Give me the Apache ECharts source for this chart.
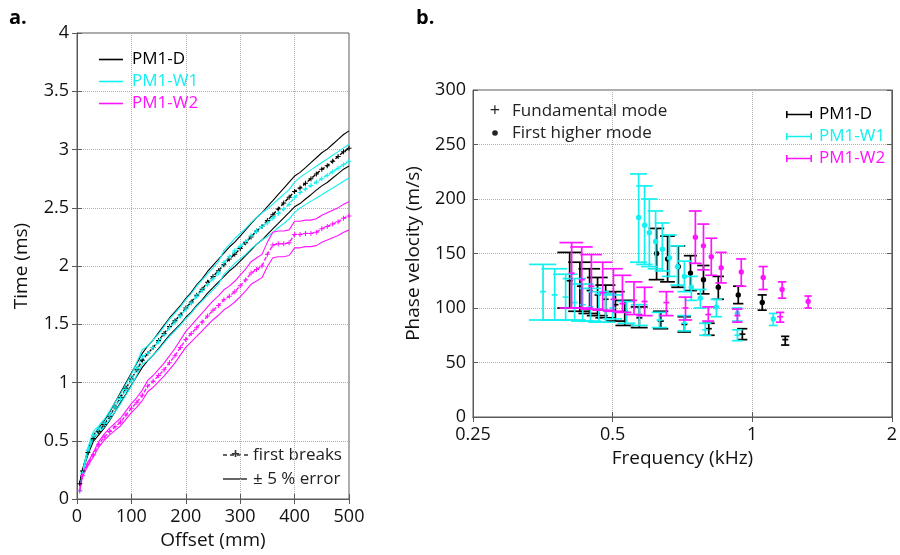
<!DOCTYPE html>
<html>
<head>
<meta charset="utf-8">
<script src="https://cdn.jsdelivr.net/npm/echarts@6/dist/echarts.min.js"></script>
<style>
  html, body { margin: 0; padding: 0; background: #fff; }
  #chart { width: 900px; height: 555px; }
</style>
</head>
<body>
<div id="chart"></div>
<script>
// ---- panel a: first-break picks (offset in mm, time in ms) ----
const offsetMm = [5, 10, 20, 30, 40, 50, 60, 70, 80, 90, 100, 110, 120, 130, 140, 150, 160, 170, 180, 190,
  200, 210, 220, 230, 240, 250, 260, 270, 280, 290, 300, 310, 320, 330, 340, 350, 360, 370, 380, 390,
  400, 410, 420, 430, 440, 450, 460, 470, 480, 490, 500];
const breaksD = [0.13, 0.24, 0.40, 0.52, 0.58, 0.64, 0.71, 0.79, 0.87, 0.95, 1.03, 1.11, 1.19, 1.25, 1.30, 1.36, 1.42, 1.48, 1.53, 1.58,
  1.64, 1.69, 1.75, 1.80, 1.86, 1.91, 1.96, 2.01, 2.06, 2.10, 2.15, 2.20, 2.25, 2.30, 2.34, 2.39, 2.44, 2.49, 2.54, 2.59,
  2.64, 2.67, 2.71, 2.75, 2.79, 2.83, 2.86, 2.90, 2.94, 2.98, 3.01];
const breaksW1 = [0.07, 0.22, 0.42, 0.55, 0.60, 0.65, 0.72, 0.79, 0.86, 0.94, 1.02, 1.12, 1.22, 1.25, 1.30, 1.35, 1.41, 1.47, 1.52, 1.57,
  1.63, 1.68, 1.74, 1.79, 1.84, 1.89, 1.94, 2.03, 2.08, 2.13, 2.17, 2.21, 2.26, 2.30, 2.34, 2.37, 2.41, 2.45, 2.49, 2.53,
  2.59, 2.63, 2.66, 2.69, 2.72, 2.75, 2.78, 2.81, 2.84, 2.87, 2.90];
const breaksW2 = [0.07, 0.20, 0.30, 0.38, 0.47, 0.53, 0.58, 0.62, 0.66, 0.72, 0.78, 0.83, 0.89, 0.97, 1.01, 1.06, 1.11, 1.17, 1.23, 1.30,
  1.37, 1.42, 1.47, 1.52, 1.57, 1.62, 1.66, 1.71, 1.74, 1.78, 1.83, 1.88, 1.94, 1.97, 2.00, 2.10, 2.18, 2.19, 2.19, 2.20,
  2.27, 2.27, 2.28, 2.28, 2.29, 2.32, 2.34, 2.36, 2.38, 2.41, 2.43];
const errorFrac = 0.05; // the "± 5 % error" envelope

// ---- panel b: dispersion picks [freq kHz, velocity m/s, low, high] ----
const dFund = [[0.404, 125, 100, 151], [0.425, 120, 97, 142], [0.446, 116, 95, 136], [0.464, 112, 93, 128],
  [0.483, 108, 91, 121], [0.507, 103, 88, 115], [0.531, 97, 84, 107], [0.571, 91, 82, 101], [0.635, 88, 81, 97],
  [0.714, 85, 78, 92], [0.806, 81, 75, 86], [0.952, 76, 71, 81], [1.178, 71, 66, 74]];
const dHigher = [[0.622, 150, 126, 173], [0.657, 145, 124, 166], [0.693, 138, 119, 157], [0.736, 132, 116, 148],
  [0.785, 126, 113, 139], [0.845, 119, 108, 129], [0.933, 112, 104, 120], [1.051, 105, 98, 112]];
const w1Fund = [[0.354, 115, 89, 140], [0.375, 112, 89, 136], [0.396, 110, 89, 131], [0.414, 105, 89, 127],
  [0.431, 103, 88, 122], [0.448, 101, 88, 118], [0.467, 99, 87, 115], [0.483, 97, 87, 113], [0.500, 100, 90, 112],
  [0.536, 96, 86, 106], [0.571, 94, 84, 103], [0.631, 89, 82, 96], [0.714, 86, 79, 93], [0.792, 80, 75, 86],
  [0.929, 75, 70, 80]];
const w1Higher = [[0.569, 183, 142, 223], [0.586, 176, 140, 212], [0.600, 169, 138, 200], [0.619, 161, 136, 189],
  [0.640, 154, 134, 178], [0.663, 146, 129, 167], [0.690, 138, 121, 157], [0.714, 129, 115, 143],
  [0.739, 119, 107, 129], [0.773, 109, 100, 117], [0.837, 101, 92, 108], [0.929, 95, 88, 100], [1.110, 90, 84, 95]];
const w2Fund = [[0.408, 132, 100, 160], [0.429, 126, 100, 156], [0.450, 120, 99, 149], [0.476, 114, 98, 142],
  [0.502, 108, 97, 136], [0.525, 104, 96, 130], [0.556, 107, 94, 124], [0.586, 106, 93, 119], [0.653, 105, 93, 115],
  [0.718, 100, 89, 110], [0.804, 94, 88, 101], [0.929, 93, 87, 99], [1.149, 92, 87, 96]];
const w2Higher = [[0.754, 165, 141, 189], [0.785, 157, 135, 177], [0.816, 147, 130, 164], [0.857, 137, 123, 151],
  [0.947, 133, 120, 145], [1.056, 128, 117, 138], [1.160, 117, 109, 124], [1.320, 106, 100, 111]];
const capHalfKHz = 0.024; // errorbar cap half width, in kHz

const BLACK = '#000000';
const CYAN = '#14f0f0';
const MAGENTA = '#ff14ff';
const FONT = '"Open Sans"';

const chart = echarts.init(document.getElementById('chart'));

const plusSymbol = 'path://M-1,-0.2H1V0.2H-1Z M-0.2,-1H0.2V1H-0.2Z';

function zipXY(ys) {
  return offsetMm.map((x, i) => [x, ys[i]]);
}

function breakSeries(name, color, ys) {
  const up = ys.map(t => +(t * (1 + errorFrac)).toFixed(3));
  const lo = ys.map(t => +(t * (1 - errorFrac)).toFixed(3));
  return [
    {
      name: name, type: 'line', xAxisIndex: 0, yAxisIndex: 0,
      data: zipXY(ys), symbol: plusSymbol, symbolSize: 5, showSymbol: true,
      itemStyle: { color: color }, lineStyle: { color: color, width: 1.4, type: [4, 2] },
      animation: false, silent: true
    },
    {
      name: name + ' +5%', type: 'line', xAxisIndex: 0, yAxisIndex: 0,
      data: zipXY(up), symbol: 'none',
      itemStyle: { color: color }, lineStyle: { color: color, width: 1.1 }, animation: false, silent: true
    },
    {
      name: name + ' -5%', type: 'line', xAxisIndex: 0, yAxisIndex: 0,
      data: zipXY(lo), symbol: 'none',
      itemStyle: { color: color }, lineStyle: { color: color, width: 1.1 }, animation: false, silent: true
    }
  ];
}

function errorBars(name, color, rows, mark) {
  return {
    name: name, type: 'custom', xAxisIndex: 2, yAxisIndex: 2,
    data: rows, encode: { x: 0, y: [1, 2, 3] },
    itemStyle: { color: color }, animation: false, silent: true,
    renderItem: function (params, api) {
      const f = api.value(0), v = api.value(1), lo = api.value(2), hi = api.value(3);
      const top = api.coord([f, hi]);
      const bot = api.coord([f, lo]);
      const mid = api.coord([f, v]);
      const tl = api.coord([f - capHalfKHz, hi]), tr = api.coord([f + capHalfKHz, hi]);
      const bl = api.coord([f - capHalfKHz, lo]), br = api.coord([f + capHalfKHz, lo]);
      const c = api.visual('color');
      const st = { stroke: c, lineWidth: 1.7 };
      const kids = [
        { type: 'line', shape: { x1: top[0], y1: top[1], x2: bot[0], y2: bot[1] }, style: st },
        { type: 'line', shape: { x1: tl[0], y1: tl[1], x2: tr[0], y2: tr[1] }, style: st },
        { type: 'line', shape: { x1: bl[0], y1: bl[1], x2: br[0], y2: br[1] }, style: st }
      ];
      if (mark === 'dot') {
        kids.push({ type: 'circle', shape: { cx: mid[0], cy: mid[1], r: 2.7 }, style: { fill: c } });
      } else {
        kids.push({ type: 'line', shape: { x1: mid[0] - 3, y1: mid[1], x2: mid[0] + 3, y2: mid[1] }, style: st });
      }
      return { type: 'group', children: kids };
    }
  };
}

const axisCol = '#5a5a5a';
const gridLine = { show: true, lineStyle: { color: '#b0b0b0', type: 'dotted', width: 1 } };
const lbl = { color: '#111', fontSize: 18, fontFamily: FONT };
const nameTxt = { color: '#111', fontSize: 19, fontFamily: FONT };
const tickIn = { show: true, inside: true, length: 5, lineStyle: { color: axisCol } };
const barIcon = 'path://M0,0h1.6v7h-1.6z M0,2.7h26v1.6h-26z M24.4,0h1.6v7h-1.6z';

const option = {
  backgroundColor: '#fff',
  animation: false,
  textStyle: { fontFamily: FONT },
  grid: [
    { left: 77, top: 33, width: 272, height: 466, show: true, borderColor: axisCol, borderWidth: 1 },
    { left: 473, top: 90, width: 419, height: 327, show: true, borderColor: axisCol, borderWidth: 1 }
  ],
  xAxis: [
    {
      gridIndex: 0, type: 'value', min: 0, max: 500, interval: 100,
      name: 'Offset (mm)', nameLocation: 'middle', nameGap: 30, nameTextStyle: nameTxt,
      axisLine: { lineStyle: { color: axisCol } }, axisTick: tickIn, axisLabel: Object.assign({ margin: 9 }, lbl),
      splitLine: gridLine
    },
    {
      gridIndex: 0, type: 'value', position: 'top', min: 0, max: 500, interval: 100,
      axisLine: { lineStyle: { color: axisCol } }, axisTick: tickIn, axisLabel: { show: false }, splitLine: { show: false }
    },
    {
      gridIndex: 1, type: 'log', logBase: 2, min: 0.25, max: 2,
      name: 'Frequency (kHz)', nameLocation: 'middle', nameGap: 30, nameTextStyle: nameTxt,
      axisLine: { lineStyle: { color: axisCol } }, axisTick: tickIn,
      axisLabel: Object.assign({ margin: 9, formatter: v => String(+(+v).toFixed(2)) }, lbl),
      splitLine: gridLine, minorTick: { show: false }
    },
    {
      gridIndex: 1, type: 'log', logBase: 2, min: 0.25, max: 2, position: 'top',
      axisLine: { lineStyle: { color: axisCol } }, axisTick: tickIn, axisLabel: { show: false }, splitLine: { show: false }
    }
  ],
  yAxis: [
    {
      gridIndex: 0, type: 'value', min: 0, max: 4, interval: 0.5,
      name: 'Time (ms)', nameLocation: 'middle', nameGap: 46, nameTextStyle: nameTxt,
      axisLine: { show: true, lineStyle: { color: axisCol } }, axisTick: tickIn,
      axisLabel: Object.assign({ margin: 8 }, lbl), splitLine: gridLine
    },
    {
      gridIndex: 0, type: 'value', position: 'right', min: 0, max: 4, interval: 0.5,
      axisLine: { show: true, lineStyle: { color: axisCol } }, axisTick: tickIn, axisLabel: { show: false }, splitLine: { show: false }
    },
    {
      gridIndex: 1, type: 'value', min: 0, max: 300, interval: 50,
      name: 'Phase velocity (m/s)', nameLocation: 'middle', nameGap: 50, nameTextStyle: nameTxt,
      axisLine: { show: true, lineStyle: { color: axisCol } }, axisTick: tickIn,
      axisLabel: Object.assign({ margin: 7 }, lbl), splitLine: gridLine
    },
    {
      gridIndex: 1, type: 'value', position: 'right', min: 0, max: 300, interval: 50,
      axisLine: { show: true, lineStyle: { color: axisCol } }, axisTick: tickIn, axisLabel: { show: false }, splitLine: { show: false }
    }
  ],
  legend: [
    {
      orient: 'vertical', left: 94, top: 46, itemWidth: 24, itemHeight: 1.6, itemGap: 5, icon: 'rect',
      selectedMode: false,
      textStyle: { fontSize: 17, fontFamily: FONT, lineHeight: 17, padding: [0, 0, 0, 4] },
      data: [
        { name: 'PM1-D', textStyle: { color: BLACK } },
        { name: 'PM1-W1', textStyle: { color: CYAN } },
        { name: 'PM1-W2', textStyle: { color: MAGENTA } }
      ]
    },
    {
      orient: 'vertical', left: 781, top: 101, itemWidth: 26, itemHeight: 7, itemGap: 5, icon: barIcon,
      selectedMode: false,
      textStyle: { fontSize: 17, fontFamily: FONT, lineHeight: 17, padding: [0, 0, 0, 2] },
      data: [
        { name: 'PM1-D', textStyle: { color: BLACK } },
        { name: 'PM1-W1', textStyle: { color: CYAN } },
        { name: 'PM1-W2', textStyle: { color: MAGENTA } }
      ]
    }
  ],
  graphic: [
    { type: 'text', left: 9, top: 8, style: { text: 'a.', fill: '#000', font: 'bold 20px ' + FONT } },
    { type: 'text', left: 416, top: 8, style: { text: 'b.', fill: '#000', font: 'bold 20px ' + FONT } },
    // panel a: line-style key
    { type: 'line', shape: { x1: 223, y1: 455, x2: 248, y2: 455 }, style: { stroke: '#333', lineWidth: 1.3, lineDash: [4, 3] } },
    { type: 'text', x: 235.5, y: 455, style: { text: '+', fill: '#333', font: 'bold 15px ' + FONT, align: 'center', verticalAlign: 'middle' } },
    { type: 'text', x: 253, y: 455, style: { text: 'first breaks', fill: '#222', font: '17px ' + FONT, verticalAlign: 'middle' } },
    { type: 'line', shape: { x1: 223, y1: 479, x2: 247, y2: 479 }, style: { stroke: '#333', lineWidth: 1.5 } },
    { type: 'text', x: 253, y: 479, style: { text: '± 5 % error', fill: '#222', font: '17px ' + FONT, verticalAlign: 'middle' } },
    // panel b: mode key
    { type: 'text', x: 495, y: 111, style: { text: '+', fill: '#222', font: '18px ' + FONT, align: 'center', verticalAlign: 'middle' } },
    { type: 'text', x: 512, y: 111, style: { text: 'Fundamental mode', fill: '#222', font: '17px ' + FONT, verticalAlign: 'middle' } },
    { type: 'circle', shape: { cx: 495, cy: 133, r: 2.8 }, style: { fill: '#222' } },
    { type: 'text', x: 512, y: 133, style: { text: 'First higher mode', fill: '#222', font: '17px ' + FONT, verticalAlign: 'middle' } }
  ],
  series: [].concat(
    breakSeries('PM1-D', BLACK, breaksD),
    breakSeries('PM1-W1', CYAN, breaksW1),
    breakSeries('PM1-W2', MAGENTA, breaksW2),
    [
      errorBars('PM1-D', BLACK, dFund, 'plus'),
      errorBars('PM1-D', BLACK, dHigher, 'dot'),
      errorBars('PM1-W1', CYAN, w1Fund, 'plus'),
      errorBars('PM1-W1', CYAN, w1Higher, 'dot'),
      errorBars('PM1-W2', MAGENTA, w2Fund, 'plus'),
      errorBars('PM1-W2', MAGENTA, w2Higher, 'dot')
    ]
  )
};

chart.setOption(option);
window.addEventListener('resize', () => chart.resize());
</script>
</body>
</html>
